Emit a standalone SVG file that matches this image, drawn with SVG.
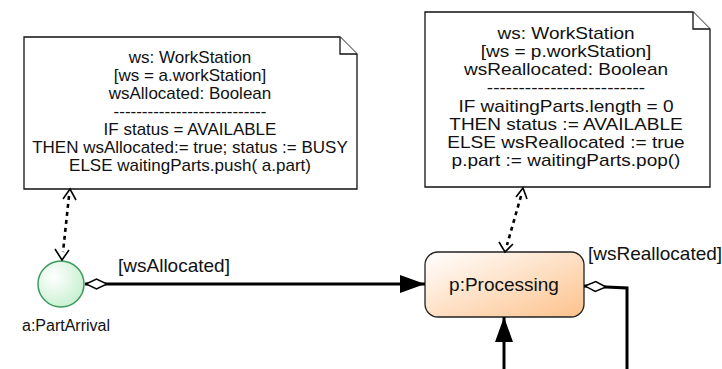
<svg xmlns="http://www.w3.org/2000/svg" width="722" height="369" viewBox="0 0 722 369">
<defs>
<style>
text{font-family:"Liberation Sans",Arial,sans-serif;font-size:17px;fill:#111}
.note{fill:#fff;stroke:#111;stroke-width:1.3}
.c{text-anchor:middle}
.lbl{font-size:19px}
.flow{fill:none;stroke:#000;stroke-width:3}
.dot{fill:none;stroke:#000;stroke-width:2.6;stroke-dasharray:4 4}
.open{fill:none;stroke:#000;stroke-width:1.6}
</style>
<linearGradient id="gOrange" x1="0" y1="0" x2="1" y2="1">
<stop offset="0" stop-color="#ffffff"/>
<stop offset="1" stop-color="#fdc28c"/>
</linearGradient>
<radialGradient id="gGreen" cx="0.35" cy="0.35" r="0.7">
<stop offset="0" stop-color="#ffffff"/>
<stop offset="1" stop-color="#c8f0d0"/>
</radialGradient>
<marker id="fill" markerWidth="25" markerHeight="18" refX="25" refY="9" orient="auto" markerUnits="userSpaceOnUse">
<path d="M0,0 L25,9 L0,18 z" fill="#000"/>
</marker>
<marker id="dia" markerWidth="24" markerHeight="12" refX="0" refY="6" orient="auto" markerUnits="userSpaceOnUse">
<path d="M1,6 L11.5,1 L22,6 L11.5,11 z" fill="#fff" stroke="#000" stroke-width="1.5"/>
</marker>
</defs>

<g id="note1">
<path class="note" d="M24,37 H340 L357,54 V189 H24 Z"/>
<path class="note" d="M340,37 V54 H357" fill="none"/>
<text class="c" x="190" y="63">ws: WorkStation</text>
<text class="c" x="190" y="81">[ws = a.workStation]</text>
<text class="c" x="190" y="99">wsAllocated: Boolean</text>
<text class="c" x="190" y="117">---------------------------</text>
<text class="c" x="190" y="135">IF status = AVAILABLE</text>
<text class="c" x="190" y="153">THEN wsAllocated:= true; status := BUSY</text>
<text class="c" x="190" y="171">ELSE waitingParts.push( a.part)</text>
</g>

<g id="note2">
<path class="note" d="M425,12 H693 L710,29 V187 H425 Z"/>
<path class="note" d="M693,12 V29 H710" fill="none"/>
<g transform="translate(566,0) scale(1.12,1)">
<text class="c" x="0" y="39">ws: WorkStation</text>
<text class="c" x="0" y="57">[ws = p.workStation]</text>
<text class="c" x="0" y="75">wsReallocated: Boolean</text>
<text class="c" x="0" y="93">-------------------------</text>
<text class="c" x="0" y="112">IF waitingParts.length = 0</text>
<text class="c" x="0" y="130">THEN status := AVAILABLE</text>
<text class="c" x="0" y="148">ELSE wsReallocated := true</text>
<text class="c" x="0" y="166">p.part := waitingParts.pop()</text>
</g>
</g>

<g id="partArrival">
<circle cx="61" cy="284" r="23" fill="url(#gGreen)" stroke="#3a9a5c" stroke-width="1.5"/>
<text class="c" x="66" y="331" style="font-size:16px">a:PartArrival</text>
</g>

<g id="processing">
<rect x="425" y="252" width="159" height="65" rx="13" fill="url(#gOrange)" stroke="#222" stroke-width="1.3"/>
<text class="c lbl" x="504" y="291">p:Processing</text>
</g>

<g id="connectors">
<path class="flow" d="M85,284 H425" marker-start="url(#dia)" marker-end="url(#fill)"/>
<text class="lbl" x="118" y="272">[wsAllocated]</text>
<path class="flow" d="M584,286 L627,288 V369" marker-start="url(#dia)"/>
<text class="lbl" x="588" y="260">[wsReallocated]</text>
<path class="flow" d="M504,369 V317" marker-end="url(#fill)"/>
<path class="dot" d="M69,196 L63,252"/>
<path class="open" d="M63,199 L70,189 L76,200"/>
<path class="open" d="M55,249 L62,260 L69,250"/>
<path class="dot" d="M521,196 L507,245"/>
<path class="open" d="M516,197 L523,188 L527,199"/>
<path class="open" d="M499,242 L505,252 L513,244"/>
</g>
</svg>
